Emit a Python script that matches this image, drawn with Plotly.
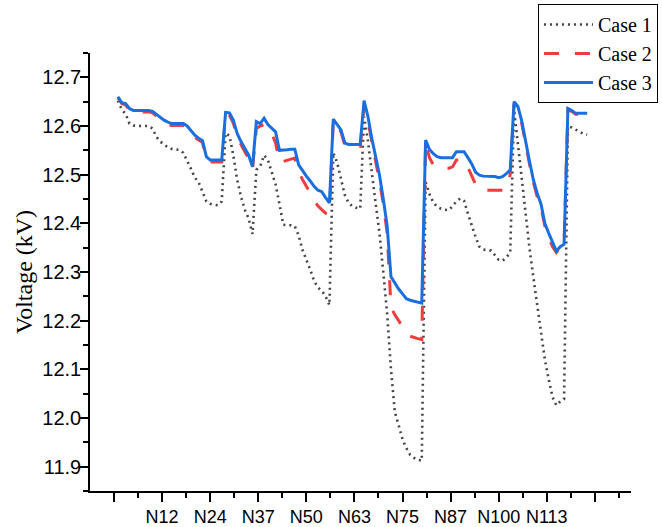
import plotly.graph_objects as go

# Bus index along the feeder
nodes = list(range(1, 124))

# Tick labels for the bus axis
tick_labels = ["", "N12", "N24", "N37", "N50", "N63", "N75", "N87", "N100", "N113", ""]

# Bus voltages (kV) for each case
case1 = [
    12.652, 12.634, 12.625, 12.605, 12.601, 12.600, 12.600, 12.600, 12.600, 12.595,
    12.578, 12.568, 12.561, 12.556, 12.553, 12.552, 12.551, 12.545, 12.530, 12.512,
    12.494, 12.484, 12.465, 12.445, 12.440, 12.438, 12.437, 12.445, 12.585, 12.580,
    12.540, 12.490, 12.455, 12.428, 12.410, 12.378, 12.510, 12.517, 12.540, 12.530,
    12.505, 12.480, 12.440, 12.397, 12.396, 12.396, 12.394, 12.375, 12.345, 12.326,
    12.305, 12.282, 12.268, 12.262, 12.250, 12.232, 12.545, 12.525, 12.490, 12.458,
    12.442, 12.435, 12.432, 12.430, 12.619, 12.570, 12.505, 12.445, 12.380, 12.300,
    12.214, 12.100, 12.012, 11.985, 11.956, 11.938, 11.924, 11.918, 11.914, 11.912,
    12.485, 12.460, 12.443, 12.434, 12.430, 12.428, 12.427, 12.435, 12.445, 12.451,
    12.446, 12.420, 12.395, 12.372, 12.352, 12.346, 12.345, 12.344, 12.335, 12.325,
    12.323, 12.330, 12.340, 12.633, 12.563, 12.490, 12.427, 12.350, 12.290, 12.230,
    12.180, 12.120, 12.080, 12.043, 12.026, 12.034, 12.039, 12.600, 12.597, 12.593,
    12.588, 12.584, 12.582,
]

case2 = [
    12.658, 12.646, 12.643, 12.633, 12.629, 12.629, 12.629, 12.629, 12.629, 12.627,
    12.620, 12.614, 12.608, 12.603, 12.601, 12.601, 12.601, 12.601, 12.596, 12.586,
    12.577, 12.571, 12.566, 12.532, 12.526, 12.526, 12.526, 12.526, 12.624, 12.622,
    12.606, 12.580, 12.562, 12.547, 12.533, 12.512, 12.595, 12.600, 12.603, 12.595,
    12.585, 12.565, 12.525, 12.527, 12.530, 12.532, 12.534, 12.505, 12.490, 12.477,
    12.462, 12.447, 12.436, 12.428, 12.421, 12.418, 12.612, 12.600, 12.588, 12.560,
    12.558, 12.558, 12.558, 12.558, 12.640, 12.612, 12.568, 12.530, 12.488, 12.440,
    12.380, 12.228, 12.212, 12.200, 12.188, 12.175, 12.168, 12.165, 12.163, 12.161,
    12.566, 12.535, 12.520, 12.515, 12.513, 12.513, 12.513, 12.516, 12.530, 12.530,
    12.530, 12.515, 12.499, 12.480, 12.470, 12.468, 12.468, 12.468, 12.468, 12.468,
    12.468, 12.472, 12.500, 12.645, 12.636, 12.605, 12.560, 12.522, 12.485, 12.455,
    12.432, 12.395, 12.370, 12.352, 12.340, 12.350, 12.355, 12.634, 12.630, 12.624,
    12.624, 12.624, 12.624,
]

case3 = [
    12.660, 12.648, 12.646, 12.636, 12.632, 12.632, 12.632, 12.632, 12.632, 12.630,
    12.624, 12.618, 12.612, 12.608, 12.605, 12.605, 12.605, 12.605, 12.600, 12.590,
    12.581, 12.575, 12.570, 12.537, 12.530, 12.530, 12.530, 12.530, 12.628, 12.627,
    12.612, 12.585, 12.568, 12.553, 12.540, 12.516, 12.609, 12.605, 12.616, 12.603,
    12.595, 12.588, 12.550, 12.550, 12.551, 12.552, 12.552, 12.520, 12.508, 12.497,
    12.487, 12.476, 12.468, 12.465, 12.453, 12.442, 12.614, 12.604, 12.592, 12.565,
    12.562, 12.562, 12.562, 12.562, 12.652, 12.620, 12.575, 12.540, 12.500, 12.450,
    12.395, 12.290, 12.276, 12.265, 12.255, 12.245, 12.242, 12.240, 12.238, 12.236,
    12.571, 12.552, 12.543, 12.537, 12.535, 12.535, 12.535, 12.535, 12.547, 12.547,
    12.547, 12.535, 12.522, 12.505, 12.499, 12.497, 12.497, 12.497, 12.496, 12.494,
    12.496, 12.502, 12.510, 12.650, 12.640, 12.610, 12.565, 12.528, 12.490, 12.462,
    12.440, 12.400, 12.380, 12.360, 12.343, 12.352, 12.357, 12.636, 12.632, 12.626,
    12.626, 12.626, 12.626,
]

fig = go.Figure()
fig.add_trace(go.Scatter(
    x=nodes, y=case1, mode="lines", name="Case 1",
    line=dict(color="#444444", width=2.6, dash="2px,4px"),
))
fig.add_trace(go.Scatter(
    x=nodes, y=case2, mode="lines", name="Case 2",
    line=dict(color="#f03c3c", width=3, dash="15px,16px"),
))
fig.add_trace(go.Scatter(
    x=nodes, y=case3, mode="lines", name="Case 3",
    line=dict(color="#1a6fe0", width=3),
))

sans = "Liberation Sans, Arial, sans-serif"
serif = "Liberation Serif, Times New Roman, serif"

fig.update_layout(
    width=662, height=527,
    margin=dict(l=90, r=31, t=53, b=36, autoexpand=False),
    paper_bgcolor="white", plot_bgcolor="white",
    showlegend=True,
    legend=dict(
        x=0.828, y=1.112, xanchor="left", yanchor="top",
        bordercolor="black", borderwidth=1, bgcolor="white",
        font=dict(family=serif, size=20, color="black"),
        itemwidth=49, tracegroupgap=0,
    ),
    xaxis=dict(
        range=[-6.25, 134.4],
        tickmode="array",
        tickvals=[0, 12.5, 25, 37.5, 50, 62.5, 75, 87.5, 100, 112.5, 125],
        ticktext=tick_labels,
        showline=True, linecolor="black", linewidth=1.5,
        ticks="outside", ticklen=9, tickwidth=1.5, tickcolor="black",
        minor=dict(
            tickmode="array",
            tickvals=[6.25, 18.75, 31.25, 43.75, 56.25, 68.75, 81.25, 93.75,
                      106.25, 118.75, 131.25],
            ticks="outside", ticklen=5, tickwidth=1.5, tickcolor="black",
            showgrid=False,
        ),
        showgrid=False, zeroline=False,
        tickfont=dict(family=sans, size=18, color="black"),
    ),
    yaxis=dict(
        range=[11.85, 12.75],
        tick0=11.9, dtick=0.1, tickformat=".1f",
        showline=True, linecolor="black", linewidth=1.5,
        ticks="outside", ticklen=8, tickwidth=1.5, tickcolor="black",
        minor=dict(dtick=0.05, ticks="outside", ticklen=5, tickwidth=1.5,
                   tickcolor="black", showgrid=False),
        showgrid=False, zeroline=False,
        tickfont=dict(family=sans, size=20, color="black"),
        ticklabelstandoff=-5,
        title=dict(text="Voltage (kV)", font=dict(family=serif, size=24, color="black"),
                   standoff=3),
    ),
)

fig.write_html("out.html")
